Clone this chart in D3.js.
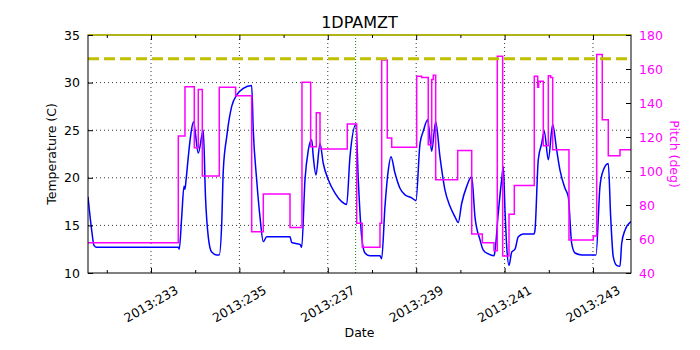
<!DOCTYPE html>
<html>
<head>
<meta charset="utf-8">
<script src="https://cdn.jsdelivr.net/npm/d3@7"></script>
<style>
body { margin:0; background:#fff; }
svg text { font-family: "DejaVu Sans", sans-serif; }
</style>
</head>
<body>
<div id="chart"></div>
<script>
// temperature (1DPAMZT) samples, day of year 2013
var tempDays = [231.575,231.658,231.71,231.771,233.618,233.64,233.695,233.747,233.769,233.79,233.844,233.905,233.962,234.07,234.183,234.233,
  234.296,234.373,234.486,234.545,234.6,234.636,234.713,234.826,234.939,235.088,235.278,235.314,235.391,235.466,235.541,235.618,
  236.145,236.183,236.371,236.41,236.484,236.559,236.636,236.672,236.733,236.824,236.898,237.011,237.163,237.314,237.427,237.502,
  237.638,237.69,237.767,237.842,237.955,238.181,238.219,238.294,238.369,238.43,238.52,238.633,238.747,238.898,238.995,239.086,
  239.161,239.26,239.351,239.441,239.538,239.652,239.765,239.878,239.952,240.029,240.143,240.256,240.33,240.443,240.518,240.631,
  240.76,240.783,240.857,240.934,240.971,241.009,241.048,241.1,241.161,241.235,241.31,241.423,241.665,241.688,241.762,241.839,
  241.898,241.989,242.088,242.179,242.253,242.367,242.441,242.518,242.593,242.744,243.068,243.158,243.233,243.346,243.4,243.459,
  243.536,243.611,243.649,243.724,243.86];
var tempVals = [18.0,14.5,12.9,12.7,12.7,12.5,15.9,19.1,18.8,19.6,22.2,24.7,25.9,22.6,25.0,18.0,
  13.8,12.2,11.9,11.9,15.2,20.8,24.3,27.5,28.7,29.4,29.7,25.0,19.8,15.9,13.3,13.8,
  13.8,13.2,13.0,12.7,19.8,22.9,24.0,22.2,20.3,23.6,21.5,19.8,18.4,17.5,17.2,22.2,
  25.6,19.8,13.8,12.1,11.8,11.8,11.5,17.0,20.8,22.2,20.5,18.9,18.2,17.9,17.6,23.6,
  24.9,26.1,22.8,25.9,22.2,18.7,17.0,15.9,15.3,17.3,19.1,20.1,15.9,13.5,12.4,12.0,
  11.8,12.3,16.3,19.8,21.2,16.6,12.8,10.8,12.2,12.5,13.8,14.1,14.1,14.5,21.9,23.6,
  24.9,21.9,25.6,22.9,20.8,18.9,18.0,13.1,12.1,11.9,11.9,19.1,20.8,21.5,15.9,11.7,
  10.8,10.7,13.1,14.5,15.4];

// pitch change points (held until next point)
var pitchDays = [231.575,233.618,233.769,233.98,234.07,234.161,234.545,234.916,235.278,235.541,236.145,236.416,236.613,236.74,236.824,
  237.441,237.654,237.78,238.181,238.219,238.346,238.446,239.011,239.124,239.273,239.351,239.387,239.441,239.939,240.256,240.496,
  240.76,240.835,240.957,241.1,241.22,241.672,241.749,241.772,241.876,241.989,242.043,242.088,242.457,243.007,243.084,243.21,
  243.346,243.611,243.86];
var pitchVals = [57.8,120.6,149.6,113.7,148,97,149.2,144.3,64.3,86.5,66.7,152.2,114.3,134.3,113,
  127.7,69.2,55.1,69.2,165.3,119.4,114,155.7,155.0,115.5,153.8,156.3,94.8,112,63,57.8,
  53.1,167.5,50,74.5,91.4,155.7,149.2,152.8,114.8,156.1,155,112.5,59.4,61.8,168.5,130.2,
  109,112.5,112.5];

var tempTicks = [10,15,20,25,30,35];
var pitchTicks = [40,60,80,100,120,140,160,180];
var majorDays = [233,235,237,239,241,243];
var minorDays = [232,234,236,238,240,242];
var tempLimit = 32.5;
var tempTop = 35;
var nowDay = 237.63;

var W = 700, H = 350;
var m = {top:35, right:69, bottom:77, left:88};
var w = W - m.left - m.right, h = H - m.top - m.bottom;

var svg = d3.select('#chart').append('svg').attr('width',W).attr('height',H);
var g = svg.append('g').attr('transform','translate(' + m.left + ',' + m.top + ')');

var x = d3.scaleLinear().domain([231.575,243.86]).range([0,w]);
var yT = d3.scaleLinear().domain([10,35]).range([h,0]);
var yP = d3.scaleLinear().domain([40,180]).range([h,0]);

// grid
g.append('g').selectAll('line').data(majorDays).enter().append('line')
    .attr('x1',d => x(d)).attr('x2',d => x(d)).attr('y1',0).attr('y2',h)
    .attr('stroke','#000').attr('stroke-width',0.8).attr('stroke-dasharray','1,3');
g.append('g').selectAll('line').data(tempTicks.slice(1,-1)).enter().append('line')
    .attr('x1',0).attr('x2',w).attr('y1',d => yT(d)).attr('y2',d => yT(d))
    .attr('stroke','#000').attr('stroke-width',0.8).attr('stroke-dasharray','1,3');

var clip = g.append('clipPath').attr('id','clp').append('rect').attr('width',w).attr('height',h);
var plot = g.append('g').attr('clip-path','url(#clp)');

var tData = tempDays.map((d,i) => ({d:d, v:tempVals[i]}));
var pData = pitchDays.map((d,i) => ({d:d, v:pitchVals[i]}));

plot.append('path').datum(tData)
    .attr('fill','none').attr('stroke','#0000ff').attr('stroke-width',1.5)
    .attr('stroke-linejoin','round')
    .attr('d', d3.line().x(d => x(d.d)).y(d => yT(d.v)).curve(d3.curveMonotoneX));

plot.append('path').datum(pData)
    .attr('fill','none').attr('stroke','#ff00ff').attr('stroke-width',1.5)
    .attr('d', d3.line().x(d => x(d.d)).y(d => yP(d.v)).curve(d3.curveStepAfter));

// limit lines
plot.append('line').attr('x1',0).attr('x2',w).attr('y1',yT(tempLimit)).attr('y2',yT(tempLimit))
    .attr('stroke','#bfbf00').attr('stroke-width',3).attr('stroke-dasharray','11,5');
plot.append('line').attr('x1',x(nowDay)).attr('x2',x(nowDay)).attr('y1',0).attr('y2',h)
    .attr('stroke','#008000').attr('stroke-width',1).attr('stroke-dasharray','1,2');

// frame
g.append('rect').attr('width',w).attr('height',h).attr('fill','none').attr('stroke','#000').attr('stroke-width',1);
g.append('line').attr('x1',0).attr('x2',w).attr('y1',yT(tempTop)).attr('y2',yT(tempTop))
    .attr('stroke','#bfbf00').attr('stroke-width',2).attr('opacity',0.8);

// axes, ticks inward
g.append('g').attr('transform','translate(0,' + h + ')')
    .call(d3.axisBottom(x).tickValues(majorDays).tickSize(-5).tickFormat(''))
    .call(s => s.select('.domain').remove());
g.append('g').attr('transform','translate(0,' + h + ')')
    .call(d3.axisBottom(x).tickValues(minorDays).tickSize(-3).tickFormat(''))
    .call(s => s.select('.domain').remove());
g.append('g').call(d3.axisTop(x).tickValues(majorDays).tickSize(-5).tickFormat(''))
    .call(s => s.select('.domain').remove());
g.append('g').call(d3.axisTop(x).tickValues(minorDays).tickSize(-3).tickFormat(''))
    .call(s => s.select('.domain').remove());

// x tick labels rotated
g.append('g').selectAll('text').data(majorDays).enter().append('text')
    .attr('transform', d => 'translate(' + x(d) + ',' + (h + 31) + ') rotate(-30)')
    .attr('text-anchor','middle').attr('dy','0.35em')
    .attr('font-size','12.5px').attr('fill','#000')
    .text(d => '2013:' + d);

var axL = g.append('g')
    .call(d3.axisLeft(yT).tickValues(tempTicks).tickSize(-5).tickPadding(8).tickFormat(d3.format('d')));
axL.select('.domain').remove();
axL.selectAll('text').attr('font-size','12.5px').attr('font-family','DejaVu Sans');

var axR = g.append('g').attr('transform','translate(' + w + ',0)')
    .call(d3.axisRight(yP).tickValues(pitchTicks).tickSize(-5).tickPadding(8).tickFormat(d3.format('d')));
axR.select('.domain').remove();
axR.selectAll('text').attr('font-size','12.5px').attr('font-family','DejaVu Sans').attr('fill','#ff00ff');

// titles
svg.append('text').attr('x', m.left + w/2).attr('y',28).attr('text-anchor','middle')
    .attr('font-size','16px').text('1DPAMZT');
svg.append('text').attr('x', m.left + w/2).attr('y',337).attr('text-anchor','middle')
    .attr('font-size','12.5px').text('Date');
svg.append('text').attr('transform','translate(56,' + (m.top + h/2) + ') rotate(-90)')
    .attr('text-anchor','middle').attr('font-size','12.5px').text('Temperature (C)');
svg.append('text').attr('transform','translate(670,' + (m.top + h/2) + ') rotate(90)')
    .attr('text-anchor','middle').attr('font-size','12.5px').attr('fill','#ff00ff').text('Pitch (deg)');
</script>
</body>
</html>
